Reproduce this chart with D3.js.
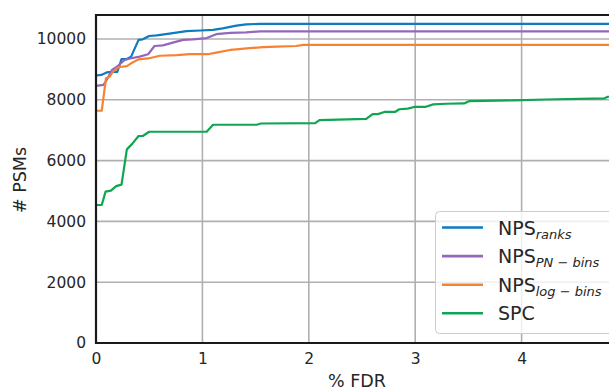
<!DOCTYPE html>
<html>
<head>
<meta charset="utf-8">
<script src="https://cdn.jsdelivr.net/npm/d3@7"></script>
<style>
  body { margin: 0; background: #fff; }
  text { font-family: "DejaVu Sans", sans-serif; fill: #262626; }
</style>
</head>
<body>
<svg id="chart"></svg>
<script>
var width = 609,
    height = 390;

// % FDR values and # PSMs
var ranksX = [0, 0.05, 0.10, 0.15, 0.20, 0.24, 0.29, 0.33, 0.40, 0.44, 0.50, 0.57, 0.69, 0.85, 0.98, 1.10, 1.19, 1.32, 1.41, 1.54, 5];
var ranksY = [8800, 8820, 8900, 8920, 8920, 9340, 9340, 9420, 9970, 9990, 10100, 10120, 10180, 10260, 10280, 10300, 10350, 10440, 10480, 10500, 10500];

var pnX = [0, 0.07, 0.10, 0.15, 0.19, 0.27, 0.32, 0.41, 0.49, 0.55, 0.63, 0.73, 0.82, 0.91, 1.04, 1.13, 1.26, 1.41, 1.54, 5];
var pnY = [8460, 8490, 8650, 8980, 9070, 9310, 9360, 9420, 9500, 9770, 9790, 9890, 9970, 9990, 10030, 10160, 10200, 10220, 10250, 10250];

var logX = [0, 0.054, 0.094, 0.13, 0.16, 0.21, 0.29, 0.33, 0.40, 0.49, 0.60, 0.76, 0.88, 1.05, 1.13, 1.26, 1.32, 1.44, 1.57, 1.70, 1.88, 1.95, 5];
var logY = [7640, 7640, 8710, 8770, 8930, 9070, 9110, 9200, 9330, 9360, 9450, 9470, 9500, 9500, 9550, 9640, 9660, 9700, 9730, 9750, 9770, 9810, 9810];

var spcX = [0, 0.054, 0.09, 0.14, 0.19, 0.24, 0.29, 0.34, 0.40, 0.44, 0.50, 1.04, 1.10, 1.51, 1.55, 2.06, 2.10, 2.54, 2.60, 2.65, 2.71, 2.81, 2.85, 2.93, 3.0, 3.10, 3.17, 3.29, 3.46, 3.51, 3.92, 4.23, 4.54, 4.78, 4.81, 5];
var spcY = [4540, 4540, 4980, 5010, 5160, 5210, 6370, 6550, 6810, 6810, 6950, 6950, 7180, 7180, 7220, 7230, 7330, 7370, 7530, 7530, 7600, 7600, 7690, 7710, 7770, 7770, 7850, 7870, 7880, 7960, 7980, 8010, 8030, 8050, 8100, 8110];

var xTicks = [0, 1, 2, 3, 4];
var yTicks = [0, 2000, 4000, 6000, 8000, 10000];

var series = [
  {name: "NPS", sub: "ranks", xs: ranksX, ys: ranksY, color: "#0c7bbf"},
  {name: "NPS", sub: "PN \u2212 bins", xs: pnX, ys: pnY, color: "#9467bd"},
  {name: "NPS", sub: "log \u2212 bins", xs: logX, ys: logY, color: "#f98232"},
  {name: "SPC", sub: null, xs: spcX, ys: spcY, color: "#10a550"}
];

var plotLeft = 96, plotTop = 15, plotBottom = 343;

var x = d3.scaleLinear().domain([0, 5]).range([plotLeft, plotLeft + 5 * 106.4]);
var y = d3.scaleLinear().domain([0, 10790]).range([plotBottom, plotTop]);

var svg = d3.select("#chart")
    .attr("width", width)
    .attr("height", height);

svg.append("clipPath").attr("id", "plot")
  .append("rect")
    .attr("x", plotLeft).attr("y", plotTop)
    .attr("width", x(5) - plotLeft).attr("height", plotBottom - plotTop);

// grid
var grid = svg.append("g").attr("stroke", "#b0b0b0").attr("stroke-width", 1.6);
grid.selectAll(".gx").data(xTicks.slice(1)).enter().append("line")
    .attr("x1", function(d) { return x(d); }).attr("x2", function(d) { return x(d); })
    .attr("y1", plotTop).attr("y2", plotBottom);
grid.selectAll(".gy").data(yTicks.slice(1)).enter().append("line")
    .attr("x1", plotLeft).attr("x2", x(5))
    .attr("y1", function(d) { return y(d); }).attr("y2", function(d) { return y(d); });

// axes
var xAxis = svg.append("g")
    .attr("transform", "translate(0," + plotBottom + ")")
    .call(d3.axisBottom(x).tickValues(xTicks).tickSize(0).tickPadding(10).tickFormat(d3.format("d")));
var yAxis = svg.append("g")
    .attr("transform", "translate(" + plotLeft + ",0)")
    .call(d3.axisLeft(y).tickValues(yTicks).tickSize(0).tickPadding(10).tickFormat(d3.format("d")));
[xAxis, yAxis].forEach(function(a) {
  a.select(".domain").remove();
  a.selectAll("text").attr("font-size", 15.5).attr("font-family", "DejaVu Sans").attr("fill", "#262626");
});

// lines
var line = d3.line()
    .x(function(d) { return x(d[0]); })
    .y(function(d) { return y(d[1]); });

svg.append("g").attr("clip-path", "url(#plot)")
  .selectAll("path").data(series).enter().append("path")
    .attr("fill", "none")
    .attr("stroke", function(d) { return d.color; })
    .attr("stroke-width", 2.2)
    .attr("stroke-linejoin", "round")
    .attr("d", function(d) { return line(d3.zip(d.xs, d.ys)); });

// frame
svg.append("path")
    .attr("fill", "none").attr("stroke", "#1a1a1a").attr("stroke-width", 2.2)
    .attr("d", "M" + x(5) + "," + plotTop + "H" + plotLeft + "V" + plotBottom + "H" + x(5));

// labels
svg.append("text")
    .attr("x", 357).attr("y", 387)
    .attr("text-anchor", "middle").attr("font-size", 17.5)
    .text("% FDR");
svg.append("text")
    .attr("transform", "translate(26,180) rotate(-90)")
    .attr("text-anchor", "middle").attr("font-size", 17.5)
    .text("# PSMs");

// legend
var legend = svg.append("g");
legend.append("rect")
    .attr("x", 435.5).attr("y", 211.5).attr("width", 190).attr("height", 122)
    .attr("rx", 4)
    .attr("fill", "#fff").attr("fill-opacity", 0.8)
    .attr("stroke", "#cccccc").attr("stroke-width", 1);

var item = legend.selectAll(".item").data(series).enter().append("g")
    .attr("transform", function(d, i) { return "translate(0," + (227.5 + i * 28.6) + ")"; });
item.append("line")
    .attr("x1", 442).attr("x2", 483)
    .attr("stroke", function(d) { return d.color; })
    .attr("stroke-width", 2.6);
var label = item.append("text")
    .attr("x", 498).attr("y", 7)
    .attr("font-size", 19);
label.append("tspan").text(function(d) { return d.name; });
label.filter(function(d) { return d.sub; })
  .append("tspan")
    .attr("dy", 4).attr("font-size", 13).attr("font-style", "italic")
    .text(function(d) { return d.sub; });
</script>
</body>
</html>
